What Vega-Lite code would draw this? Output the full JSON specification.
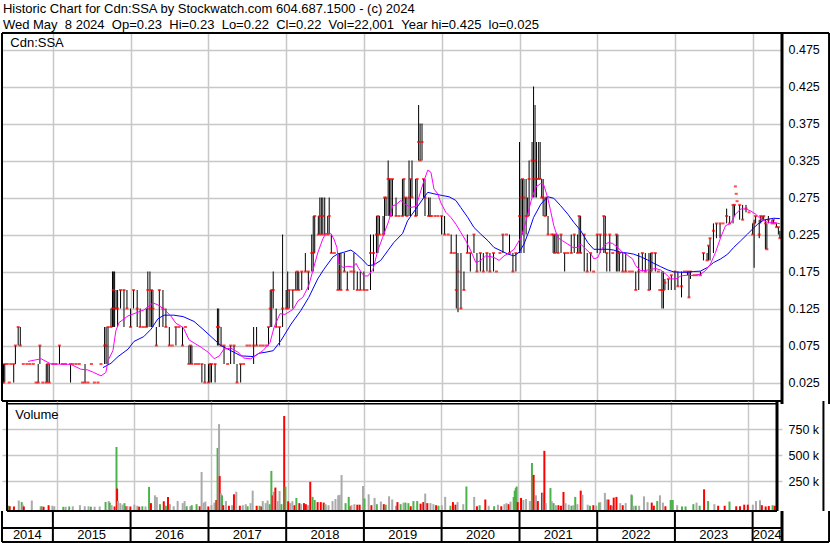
{
  "$schema": "https://vega.github.io/schema/vega-lite/v6.json",
  "background": "white",
  "padding": {"left": 0, "top": 2, "right": 1, "bottom": 1},
  "title": {
    "text": [
      "Historic Chart for Cdn:SSA by Stockwatch.com 604.687.1500 - (c) 2024",
      "Wed May \u00a08 2024 \u00a0Op=0.23 \u00a0Hi=0.23 \u00a0Lo=0.22 \u00a0Cl=0.22 \u00a0Vol=22,001 \u00a0Year hi=0.425 \u00a0lo=0.025"
    ],
    "anchor": "start",
    "frame": "bounds",
    "font": "Liberation Sans",
    "fontSize": 13,
    "fontWeight": "normal",
    "color": "#000000",
    "lineHeight": 16,
    "baseline": "bottom",
    "offset": -13,
    "dx": 2
  },
  "datasets": {
    "bars": [
      {"date":"2014-05-09","high":0.05,"low":0.025,"close":0.025},
      {"date":"2014-05-14","high":0.05,"low":0.025,"close":0.025},
      {"date":"2014-05-20","high":0.05,"low":0.025,"close":0.05},
      {"date":"2014-06-01","close":0.05},
      {"date":"2014-06-10","close":0.025},
      {"date":"2014-06-17","close":0.05},
      {"date":"2014-07-01","high":0.05,"low":0.025,"close":0.05},
      {"date":"2014-07-09","high":0.075,"low":0.05,"close":0.075},
      {"date":"2014-07-22","high":0.10,"low":0.075,"close":0.10},
      {"date":"2014-08-01","high":0.10,"low":0.075,"close":0.075},
      {"date":"2014-08-15","close":0.05},
      {"date":"2014-09-01","close":0.05},
      {"date":"2014-09-15","close":0.05},
      {"date":"2014-10-01","close":0.05},
      {"date":"2014-10-14","close":0.025},
      {"date":"2014-10-24","high":0.05,"low":0.025,"close":0.025},
      {"date":"2014-11-01","high":0.075,"low":0.05,"close":0.075},
      {"date":"2014-11-15","close":0.025},
      {"date":"2014-12-01","high":0.05,"low":0.025,"close":0.025},
      {"date":"2014-12-08","high":0.05,"low":0.025,"close":0.05},
      {"date":"2014-12-15","high":0.05,"low":0.025,"close":0.025},
      {"date":"2015-01-01","close":0.05},
      {"date":"2015-01-15","close":0.05},
      {"date":"2015-02-01","high":0.075,"low":0.05,"close":0.075},
      {"date":"2015-02-15","close":0.05},
      {"date":"2015-03-01","close":0.05},
      {"date":"2015-03-25","high":0.05,"low":0.025,"close":0.05},
      {"date":"2015-04-05","close":0.05},
      {"date":"2015-04-20","close":0.05},
      {"date":"2015-05-05","close":0.05},
      {"date":"2015-05-20","close":0.025},
      {"date":"2015-06-01","high":0.05,"low":0.025,"close":0.025},
      {"date":"2015-06-15","close":0.025},
      {"date":"2015-07-01","close":0.05},
      {"date":"2015-07-15","close":0.025},
      {"date":"2015-08-01","close":0.025},
      {"date":"2015-08-15","close":0.05},
      {"date":"2015-09-01","high":0.10,"low":0.05,"close":0.075},
      {"date":"2015-09-08","high":0.10,"low":0.05,"close":0.075},
      {"date":"2015-09-17","high":0.10,"low":0.05,"close":0.10},
      {"date":"2015-10-01","high":0.125,"low":0.10,"close":0.10},
      {"date":"2015-10-08","high":0.175,"low":0.10,"close":0.125},
      {"date":"2015-10-12","high":0.175,"low":0.10,"close":0.15},
      {"date":"2015-10-18","high":0.175,"low":0.10,"close":0.125},
      {"date":"2015-10-25","high":0.15,"low":0.125,"close":0.125},
      {"date":"2015-11-01","high":0.15,"low":0.10,"close":0.125},
      {"date":"2015-11-15","high":0.15,"low":0.125,"close":0.15},
      {"date":"2015-12-01","high":0.15,"low":0.10,"close":0.15},
      {"date":"2015-12-15","high":0.15,"low":0.125,"close":0.125},
      {"date":"2016-01-01","high":0.125,"low":0.10,"close":0.10},
      {"date":"2016-01-15","high":0.15,"low":0.125,"close":0.15},
      {"date":"2016-02-01","high":0.15,"low":0.10,"close":0.125},
      {"date":"2016-02-15","high":0.125,"low":0.10,"close":0.10},
      {"date":"2016-03-01","close":0.10},
      {"date":"2016-03-15","high":0.125,"low":0.10,"close":0.10},
      {"date":"2016-03-22","high":0.175,"low":0.10,"close":0.15},
      {"date":"2016-04-01","high":0.175,"low":0.10,"close":0.125},
      {"date":"2016-04-08","high":0.15,"low":0.10,"close":0.15},
      {"date":"2016-04-15","high":0.15,"low":0.10,"close":0.125},
      {"date":"2016-05-01","high":0.10,"low":0.075,"close":0.075},
      {"date":"2016-05-15","high":0.15,"low":0.10,"close":0.15},
      {"date":"2016-06-01","high":0.15,"low":0.10,"close":0.125},
      {"date":"2016-06-15","high":0.125,"low":0.10,"close":0.10},
      {"date":"2016-07-01","high":0.10,"low":0.075,"close":0.075},
      {"date":"2016-07-15","close":0.075},
      {"date":"2016-08-01","high":0.10,"low":0.075,"close":0.10},
      {"date":"2016-08-15","close":0.10},
      {"date":"2016-09-01","high":0.10,"low":0.075,"close":0.075},
      {"date":"2016-09-15","close":0.10},
      {"date":"2016-10-01","high":0.075,"low":0.05,"close":0.05},
      {"date":"2016-10-08","high":0.075,"low":0.05,"close":0.075},
      {"date":"2016-10-15","high":0.075,"low":0.05,"close":0.05},
      {"date":"2016-11-01","close":0.05},
      {"date":"2016-11-15","close":0.05},
      {"date":"2016-12-01","high":0.05,"low":0.025,"close":0.05},
      {"date":"2016-12-15","high":0.05,"low":0.025,"close":0.025},
      {"date":"2017-01-01","high":0.05,"low":0.025,"close":0.025},
      {"date":"2017-01-08","high":0.05,"low":0.025,"close":0.05},
      {"date":"2017-01-15","high":0.05,"low":0.025,"close":0.05},
      {"date":"2017-02-01","high":0.05,"low":0.025,"close":0.05},
      {"date":"2017-02-12","high":0.125,"low":0.075,"close":0.10},
      {"date":"2017-02-18","high":0.125,"low":0.075,"close":0.10},
      {"date":"2017-03-01","high":0.10,"low":0.075,"close":0.075},
      {"date":"2017-03-15","high":0.075,"low":0.05,"close":0.075},
      {"date":"2017-04-01","close":0.05},
      {"date":"2017-04-15","high":0.075,"low":0.05,"close":0.075},
      {"date":"2017-05-01","high":0.075,"low":0.05,"close":0.075},
      {"date":"2017-05-15","high":0.05,"low":0.025,"close":0.025},
      {"date":"2017-06-01","high":0.05,"low":0.025,"close":0.05},
      {"date":"2017-06-15","close":0.05},
      {"date":"2017-07-01","close":0.075},
      {"date":"2017-07-15","close":0.075},
      {"date":"2017-08-01","high":0.10,"low":0.05,"close":0.075},
      {"date":"2017-08-15","high":0.10,"low":0.075,"close":0.075},
      {"date":"2017-09-01","close":0.075},
      {"date":"2017-09-15","close":0.075},
      {"date":"2017-10-01","close":0.075},
      {"date":"2017-10-10","high":0.10,"low":0.075,"close":0.10},
      {"date":"2017-10-18","high":0.15,"low":0.10,"close":0.125},
      {"date":"2017-10-25","high":0.15,"low":0.10,"close":0.15},
      {"date":"2017-11-01","high":0.175,"low":0.125,"close":0.15},
      {"date":"2017-11-15","high":0.125,"low":0.10,"close":0.10},
      {"date":"2017-12-01","high":0.10,"low":0.075,"close":0.10},
      {"date":"2017-12-15","high":0.225,"low":0.10,"close":0.125},
      {"date":"2018-01-01","high":0.15,"low":0.125,"close":0.125},
      {"date":"2018-01-08","high":0.175,"low":0.125,"close":0.125},
      {"date":"2018-01-15","high":0.15,"low":0.125,"close":0.15},
      {"date":"2018-02-01","high":0.15,"low":0.125,"close":0.15},
      {"date":"2018-02-15","high":0.175,"low":0.15,"close":0.15},
      {"date":"2018-02-22","high":0.175,"low":0.15,"close":0.175},
      {"date":"2018-03-01","high":0.175,"low":0.15,"close":0.15},
      {"date":"2018-03-15","high":0.175,"low":0.15,"close":0.175},
      {"date":"2018-04-01","high":0.20,"low":0.175,"close":0.175},
      {"date":"2018-04-15","high":0.175,"low":0.15,"close":0.175},
      {"date":"2018-05-01","high":0.225,"low":0.175,"close":0.20},
      {"date":"2018-05-08","high":0.25,"low":0.175,"close":0.20},
      {"date":"2018-05-15","high":0.25,"low":0.20,"close":0.25},
      {"date":"2018-06-01","high":0.25,"low":0.225,"close":0.225},
      {"date":"2018-06-08","high":0.275,"low":0.225,"close":0.25},
      {"date":"2018-06-15","high":0.275,"low":0.225,"close":0.225},
      {"date":"2018-06-22","high":0.275,"low":0.225,"close":0.25},
      {"date":"2018-07-01","high":0.275,"low":0.225,"close":0.225},
      {"date":"2018-07-15","high":0.25,"low":0.225,"close":0.225},
      {"date":"2018-07-22","high":0.275,"low":0.225,"close":0.25},
      {"date":"2018-08-01","high":0.225,"low":0.20,"close":0.20},
      {"date":"2018-08-15","close":0.20},
      {"date":"2018-09-01","high":0.20,"low":0.15,"close":0.15},
      {"date":"2018-09-08","high":0.20,"low":0.15,"close":0.175},
      {"date":"2018-09-15","high":0.20,"low":0.15,"close":0.15},
      {"date":"2018-10-01","high":0.20,"low":0.175,"close":0.175},
      {"date":"2018-10-15","high":0.175,"low":0.15,"close":0.15},
      {"date":"2018-11-01","close":0.175},
      {"date":"2018-11-15","high":0.20,"low":0.15,"close":0.175},
      {"date":"2018-12-01","high":0.175,"low":0.15,"close":0.15},
      {"date":"2018-12-15","high":0.175,"low":0.15,"close":0.15},
      {"date":"2019-01-01","high":0.175,"low":0.15,"close":0.15},
      {"date":"2019-01-15","close":0.15},
      {"date":"2019-02-01","high":0.225,"low":0.15,"close":0.20},
      {"date":"2019-02-15","high":0.225,"low":0.175,"close":0.20},
      {"date":"2019-03-01","high":0.25,"low":0.20,"close":0.225},
      {"date":"2019-03-08","high":0.25,"low":0.20,"close":0.25},
      {"date":"2019-03-15","high":0.25,"low":0.225,"close":0.225},
      {"date":"2019-04-01","high":0.25,"low":0.225,"close":0.225},
      {"date":"2019-04-08","high":0.275,"low":0.225,"close":0.275},
      {"date":"2019-04-15","high":0.275,"low":0.25,"close":0.275},
      {"date":"2019-04-25","high":0.325,"low":0.25,"close":0.30},
      {"date":"2019-05-01","high":0.30,"low":0.25,"close":0.30},
      {"date":"2019-05-08","high":0.30,"low":0.25,"close":0.25},
      {"date":"2019-05-15","high":0.30,"low":0.25,"close":0.30},
      {"date":"2019-06-01","high":0.275,"low":0.25,"close":0.25},
      {"date":"2019-06-15","close":0.25},
      {"date":"2019-07-01","high":0.30,"low":0.25,"close":0.25},
      {"date":"2019-07-08","high":0.30,"low":0.25,"close":0.30},
      {"date":"2019-07-15","high":0.275,"low":0.25,"close":0.275},
      {"date":"2019-07-22","high":0.275,"low":0.25,"close":0.25},
      {"date":"2019-08-01","high":0.325,"low":0.25,"close":0.275},
      {"date":"2019-08-08","high":0.30,"low":0.25,"close":0.30},
      {"date":"2019-08-15","high":0.325,"low":0.275,"close":0.275},
      {"date":"2019-09-01","high":0.30,"low":0.25,"close":0.25},
      {"date":"2019-09-08","high":0.30,"low":0.25,"close":0.30},
      {"date":"2019-09-15","high":0.40,"low":0.325,"close":0.35},
      {"date":"2019-09-22","high":0.375,"low":0.325,"close":0.325},
      {"date":"2019-10-01","high":0.375,"low":0.325,"close":0.35},
      {"date":"2019-10-08","high":0.30,"low":0.275,"close":0.30},
      {"date":"2019-10-15","high":0.30,"low":0.25,"close":0.275},
      {"date":"2019-11-01","high":0.275,"low":0.25,"close":0.25},
      {"date":"2019-11-08","high":0.275,"low":0.25,"close":0.25},
      {"date":"2019-11-15","close":0.25},
      {"date":"2019-12-01","close":0.25},
      {"date":"2019-12-15","close":0.25},
      {"date":"2020-01-01","high":0.25,"low":0.225,"close":0.25},
      {"date":"2020-01-15","high":0.25,"low":0.225,"close":0.225},
      {"date":"2020-02-01","close":0.225},
      {"date":"2020-02-15","high":0.225,"low":0.20,"close":0.20},
      {"date":"2020-03-01","close":0.20},
      {"date":"2020-03-10","high":0.225,"low":0.125,"close":0.15},
      {"date":"2020-03-18","high":0.20,"low":0.12,"close":0.175},
      {"date":"2020-04-01","high":0.20,"low":0.125,"close":0.125},
      {"date":"2020-04-15","high":0.175,"low":0.15,"close":0.15},
      {"date":"2020-05-01","high":0.225,"low":0.20,"close":0.20},
      {"date":"2020-05-15","high":0.20,"low":0.175,"close":0.20},
      {"date":"2020-06-01","high":0.225,"low":0.20,"close":0.225},
      {"date":"2020-06-15","high":0.20,"low":0.175,"close":0.175},
      {"date":"2020-07-01","high":0.20,"low":0.175,"close":0.20},
      {"date":"2020-07-15","high":0.20,"low":0.175,"close":0.175},
      {"date":"2020-08-01","high":0.20,"low":0.175,"close":0.20},
      {"date":"2020-08-15","high":0.20,"low":0.175,"close":0.175},
      {"date":"2020-09-01","high":0.20,"low":0.175,"close":0.20},
      {"date":"2020-09-15","close":0.175},
      {"date":"2020-10-01","close":0.20},
      {"date":"2020-10-15","high":0.225,"low":0.20,"close":0.225},
      {"date":"2020-11-01","close":0.225},
      {"date":"2020-11-15","high":0.225,"low":0.20,"close":0.20},
      {"date":"2020-12-01","high":0.20,"low":0.175,"close":0.175},
      {"date":"2020-12-15","high":0.20,"low":0.175,"close":0.20},
      {"date":"2021-01-01","high":0.35,"low":0.20,"close":0.25},
      {"date":"2021-01-08","high":0.30,"low":0.20,"close":0.275},
      {"date":"2021-01-15","high":0.30,"low":0.225,"close":0.30},
      {"date":"2021-01-22","high":0.30,"low":0.20,"close":0.275},
      {"date":"2021-02-01","high":0.30,"low":0.225,"close":0.25},
      {"date":"2021-02-08","high":0.275,"low":0.25,"close":0.25},
      {"date":"2021-02-15","high":0.325,"low":0.25,"close":0.30},
      {"date":"2021-03-01","high":0.35,"low":0.275,"close":0.325},
      {"date":"2021-03-08","high":0.425,"low":0.275,"close":0.30},
      {"date":"2021-03-15","high":0.40,"low":0.275,"close":0.325},
      {"date":"2021-03-22","high":0.35,"low":0.275,"close":0.30},
      {"date":"2021-04-01","high":0.35,"low":0.30,"close":0.30},
      {"date":"2021-04-08","high":0.35,"low":0.30,"close":0.30},
      {"date":"2021-04-15","high":0.30,"low":0.275,"close":0.275},
      {"date":"2021-04-22","high":0.30,"low":0.25,"close":0.275},
      {"date":"2021-05-01","high":0.275,"low":0.25,"close":0.25},
      {"date":"2021-05-08","high":0.275,"low":0.25,"close":0.275},
      {"date":"2021-05-15","high":0.25,"low":0.225,"close":0.225},
      {"date":"2021-06-01","close":0.225},
      {"date":"2021-06-08","high":0.225,"low":0.20,"close":0.225},
      {"date":"2021-06-15","high":0.225,"low":0.20,"close":0.20},
      {"date":"2021-06-22","high":0.225,"low":0.20,"close":0.225},
      {"date":"2021-07-01","high":0.225,"low":0.20,"close":0.20},
      {"date":"2021-07-15","high":0.225,"low":0.20,"close":0.225},
      {"date":"2021-08-01","high":0.20,"low":0.175,"close":0.20},
      {"date":"2021-08-15","close":0.20},
      {"date":"2021-09-01","high":0.225,"low":0.20,"close":0.20},
      {"date":"2021-09-15","high":0.225,"low":0.20,"close":0.225},
      {"date":"2021-10-01","high":0.225,"low":0.20,"close":0.20},
      {"date":"2021-10-08","high":0.25,"low":0.20,"close":0.25},
      {"date":"2021-10-15","high":0.25,"low":0.20,"close":0.20},
      {"date":"2021-11-01","high":0.225,"low":0.175,"close":0.225},
      {"date":"2021-11-15","high":0.20,"low":0.175,"close":0.175},
      {"date":"2021-12-01","high":0.20,"low":0.175,"close":0.20},
      {"date":"2021-12-15","close":0.175},
      {"date":"2022-01-01","high":0.225,"low":0.20,"close":0.225},
      {"date":"2022-01-15","high":0.225,"low":0.20,"close":0.225},
      {"date":"2022-02-01","high":0.25,"low":0.20,"close":0.25},
      {"date":"2022-02-08","high":0.25,"low":0.20,"close":0.225},
      {"date":"2022-02-15","high":0.20,"low":0.175,"close":0.20},
      {"date":"2022-03-01","high":0.225,"low":0.175,"close":0.225},
      {"date":"2022-03-15","close":0.20},
      {"date":"2022-04-01","high":0.225,"low":0.175,"close":0.225},
      {"date":"2022-04-08","high":0.225,"low":0.175,"close":0.20},
      {"date":"2022-04-15","high":0.20,"low":0.175,"close":0.20},
      {"date":"2022-05-01","high":0.20,"low":0.175,"close":0.175},
      {"date":"2022-05-15","high":0.20,"low":0.175,"close":0.175},
      {"date":"2022-06-01","close":0.175},
      {"date":"2022-06-15","close":0.175},
      {"date":"2022-07-01","high":0.175,"low":0.15,"close":0.15},
      {"date":"2022-07-15","high":0.20,"low":0.15,"close":0.175},
      {"date":"2022-08-01","high":0.20,"low":0.175,"close":0.20},
      {"date":"2022-08-15","high":0.20,"low":0.175,"close":0.175},
      {"date":"2022-09-01","high":0.20,"low":0.15,"close":0.15},
      {"date":"2022-09-08","high":0.20,"low":0.15,"close":0.175},
      {"date":"2022-09-15","high":0.20,"low":0.175,"close":0.20},
      {"date":"2022-10-01","high":0.20,"low":0.175,"close":0.20},
      {"date":"2022-10-15","close":0.175},
      {"date":"2022-10-22","close":0.15},
      {"date":"2022-11-01","high":0.175,"low":0.125,"close":0.15},
      {"date":"2022-11-08","high":0.175,"low":0.125,"close":0.15},
      {"date":"2022-11-15","high":0.165,"low":0.15,"close":0.16},
      {"date":"2022-12-01","high":0.165,"low":0.15,"close":0.165},
      {"date":"2022-12-15","high":0.17,"low":0.15,"close":0.17},
      {"date":"2023-01-01","high":0.175,"low":0.15,"close":0.175},
      {"date":"2023-01-15","high":0.175,"low":0.155,"close":0.155},
      {"date":"2023-02-01","high":0.175,"low":0.14,"close":0.155},
      {"date":"2023-02-15","close":0.175},
      {"date":"2023-03-01","high":0.175,"low":0.17,"close":0.175},
      {"date":"2023-03-08","high":0.175,"low":0.14,"close":0.14},
      {"date":"2023-03-15","high":0.175,"low":0.165,"close":0.175},
      {"date":"2023-04-01","close":0.17},
      {"date":"2023-04-15","close":0.17},
      {"date":"2023-05-01","high":0.175,"low":0.17,"close":0.17},
      {"date":"2023-05-15","high":0.20,"low":0.19,"close":0.20},
      {"date":"2023-06-01","high":0.20,"low":0.19,"close":0.19},
      {"date":"2023-06-08","high":0.21,"low":0.19,"close":0.21},
      {"date":"2023-06-15","high":0.22,"low":0.19,"close":0.22},
      {"date":"2023-07-01","high":0.24,"low":0.20,"close":0.23},
      {"date":"2023-07-15","high":0.24,"low":0.22,"close":0.24},
      {"date":"2023-08-01","high":0.24,"low":0.22,"close":0.24},
      {"date":"2023-08-15","close":0.24},
      {"date":"2023-09-01","high":0.26,"low":0.24,"close":0.25},
      {"date":"2023-09-15","high":0.25,"low":0.24,"close":0.24},
      {"date":"2023-10-01","high":0.265,"low":0.24,"close":0.265},
      {"date":"2023-10-08","high":0.265,"low":0.25,"close":0.265},
      {"date":"2023-10-12","close":0.29},
      {"date":"2023-10-16","close":0.28},
      {"date":"2023-10-20","close":0.27},
      {"date":"2023-11-01","high":0.265,"low":0.245,"close":0.265},
      {"date":"2023-11-15","high":0.265,"low":0.245,"close":0.245},
      {"date":"2023-12-01","high":0.265,"low":0.255,"close":0.26},
      {"date":"2023-12-15","close":0.255},
      {"date":"2024-01-01","high":0.24,"low":0.225,"close":0.225},
      {"date":"2024-01-08","high":0.245,"low":0.18,"close":0.24},
      {"date":"2024-01-15","high":0.25,"low":0.24,"close":0.25},
      {"date":"2024-02-01","high":0.245,"low":0.22,"close":0.225},
      {"date":"2024-02-08","high":0.25,"low":0.24,"close":0.25},
      {"date":"2024-02-15","high":0.25,"low":0.245,"close":0.245},
      {"date":"2024-02-22","high":0.25,"low":0.245,"close":0.25},
      {"date":"2024-03-01","high":0.245,"low":0.205,"close":0.24},
      {"date":"2024-03-08","high":0.24,"low":0.205,"close":0.205},
      {"date":"2024-03-15","high":0.25,"low":0.24,"close":0.245},
      {"date":"2024-04-01","high":0.245,"low":0.24,"close":0.24},
      {"date":"2024-04-08","high":0.245,"low":0.24,"close":0.245},
      {"date":"2024-04-15","close":0.24},
      {"date":"2024-04-22","high":0.24,"low":0.235,"close":0.235},
      {"date":"2024-05-01","high":0.235,"low":0.225,"close":0.235},
      {"date":"2024-05-08","high":0.23,"low":0.22,"close":0.22}
    ],
    "ma_short": [
      {"date":"2014-09-06","value":0.0535},{"date":"2014-11-07","value":0.057},{"date":"2014-12-23","value":0.05},
      {"date":"2015-03-26","value":0.0495},{"date":"2015-05-12","value":0.043},{"date":"2015-06-14","value":0.042},
      {"date":"2015-07-12","value":0.0385},{"date":"2015-08-15","value":0.034},{"date":"2015-09-07","value":0.0385},
      {"date":"2015-09-17","value":0.0545},{"date":"2015-10-10","value":0.068},{"date":"2015-10-24","value":0.095},
      {"date":"2015-11-08","value":0.106},{"date":"2015-12-20","value":0.115},{"date":"2016-03-03","value":0.123},
      {"date":"2016-04-15","value":0.1325},{"date":"2016-05-08","value":0.13},{"date":"2016-06-06","value":0.124},
      {"date":"2016-07-08","value":0.115},{"date":"2016-08-01","value":0.105},{"date":"2016-09-04","value":0.0995},
      {"date":"2016-10-02","value":0.0825},{"date":"2016-11-28","value":0.0725},{"date":"2016-12-30","value":0.066},
      {"date":"2017-01-28","value":0.057},{"date":"2017-02-21","value":0.061},{"date":"2017-03-14","value":0.070},
      {"date":"2017-04-16","value":0.0715},{"date":"2017-05-19","value":0.066},{"date":"2017-06-16","value":0.058},
      {"date":"2017-07-19","value":0.057},{"date":"2017-08-21","value":0.0635},{"date":"2017-09-14","value":0.068},
      {"date":"2017-10-17","value":0.079},{"date":"2017-11-05","value":0.0995},{"date":"2017-12-03","value":0.118},
      {"date":"2017-12-26","value":0.117},{"date":"2018-02-03","value":0.124},{"date":"2018-02-26","value":0.1355},
      {"date":"2018-03-20","value":0.14},{"date":"2018-04-17","value":0.156},{"date":"2018-05-06","value":0.176},
      {"date":"2018-05-29","value":0.20},{"date":"2018-06-22","value":0.219},{"date":"2018-07-06","value":0.2265},
      {"date":"2018-07-29","value":0.2265},{"date":"2018-08-13","value":0.219},{"date":"2018-08-27","value":0.2075},
      {"date":"2018-09-06","value":0.185},{"date":"2018-09-25","value":0.1805},{"date":"2018-10-18","value":0.182},
      {"date":"2018-11-11","value":0.181},{"date":"2018-11-25","value":0.186},{"date":"2018-12-08","value":0.179},
      {"date":"2019-01-01","value":0.169},{"date":"2019-01-20","value":0.169},{"date":"2019-02-13","value":0.178},
      {"date":"2019-03-07","value":0.203},{"date":"2019-03-30","value":0.221},{"date":"2019-04-28","value":0.2435},
      {"date":"2019-05-16","value":0.264},{"date":"2019-05-30","value":0.265},{"date":"2019-06-23","value":0.271},
      {"date":"2019-07-16","value":0.2655},{"date":"2019-08-09","value":0.2615},{"date":"2019-09-02","value":0.263},
      {"date":"2019-09-16","value":0.275},{"date":"2019-10-05","value":0.293},{"date":"2019-10-28","value":0.312},
      {"date":"2019-11-12","value":0.309},{"date":"2019-11-26","value":0.2865},{"date":"2019-12-14","value":0.28},
      {"date":"2019-12-28","value":0.268},{"date":"2020-01-21","value":0.255},{"date":"2020-02-14","value":0.248},
      {"date":"2020-03-08","value":0.239},{"date":"2020-03-31","value":0.228},{"date":"2020-04-24","value":0.2165},
      {"date":"2020-05-17","value":0.203},{"date":"2020-06-10","value":0.187},{"date":"2020-07-03","value":0.19},
      {"date":"2020-07-26","value":0.196},{"date":"2020-08-20","value":0.195},{"date":"2020-09-03","value":0.194},
      {"date":"2020-09-27","value":0.19},{"date":"2020-10-20","value":0.196},{"date":"2020-11-13","value":0.20},
      {"date":"2020-12-06","value":0.205},{"date":"2021-01-08","value":0.221},{"date":"2021-02-01","value":0.2435},
      {"date":"2021-02-25","value":0.271},{"date":"2021-03-18","value":0.289},{"date":"2021-04-11","value":0.294},
      {"date":"2021-04-25","value":0.292},{"date":"2021-05-13","value":0.275},{"date":"2021-05-27","value":0.257},
      {"date":"2021-06-11","value":0.237},{"date":"2021-06-29","value":0.221},{"date":"2021-07-22","value":0.2165},
      {"date":"2021-08-16","value":0.212},{"date":"2021-09-09","value":0.2075},{"date":"2021-10-02","value":0.2075},
      {"date":"2021-10-16","value":0.212},{"date":"2021-11-09","value":0.205},{"date":"2021-12-02","value":0.199},
      {"date":"2021-12-16","value":0.192},{"date":"2022-01-04","value":0.194},{"date":"2022-01-18","value":0.203},
      {"date":"2022-02-02","value":0.21},{"date":"2022-02-21","value":0.214},{"date":"2022-03-14","value":0.213},
      {"date":"2022-04-07","value":0.2075},{"date":"2022-04-30","value":0.201},{"date":"2022-05-23","value":0.197},
      {"date":"2022-06-16","value":0.192},{"date":"2022-06-30","value":0.183},{"date":"2022-07-24","value":0.176},
      {"date":"2022-08-17","value":0.1765},{"date":"2022-09-10","value":0.178},{"date":"2022-10-03","value":0.179},
      {"date":"2022-10-26","value":0.177},{"date":"2022-11-19","value":0.1715},{"date":"2022-12-12","value":0.165},
      {"date":"2023-01-05","value":0.165},{"date":"2023-01-29","value":0.169},{"date":"2023-03-01","value":0.17},
      {"date":"2023-03-29","value":0.1695},{"date":"2023-05-01","value":0.1715},{"date":"2023-05-24","value":0.176},
      {"date":"2023-06-17","value":0.185},{"date":"2023-07-11","value":0.201},{"date":"2023-08-04","value":0.221},
      {"date":"2023-08-27","value":0.237},{"date":"2023-09-20","value":0.24},{"date":"2023-10-13","value":0.2525},
      {"date":"2023-11-06","value":0.2595},{"date":"2023-11-30","value":0.2595},{"date":"2023-12-22","value":0.257},
      {"date":"2024-01-15","value":0.2525},{"date":"2024-02-08","value":0.246},{"date":"2024-03-11","value":0.2415},
      {"date":"2024-04-09","value":0.2415},{"date":"2024-05-08","value":0.2395}
    ],
    "ma_long": [
      {"date":"2015-08-24","value":0.045},{"date":"2015-10-01","value":0.051},{"date":"2015-11-03","value":0.060},
      {"date":"2015-12-20","value":0.070},{"date":"2016-01-17","value":0.0805},{"date":"2016-03-03","value":0.087},
      {"date":"2016-04-06","value":0.097},{"date":"2016-05-08","value":0.111},{"date":"2016-06-06","value":0.116},
      {"date":"2016-07-22","value":0.116},{"date":"2016-09-04","value":0.114},{"date":"2016-10-25","value":0.1075},
      {"date":"2016-12-06","value":0.097},{"date":"2017-01-13","value":0.087},{"date":"2017-02-28","value":0.075},
      {"date":"2017-04-16","value":0.068},{"date":"2017-06-02","value":0.061},{"date":"2017-08-02","value":0.060},
      {"date":"2017-08-26","value":0.0645},{"date":"2017-09-28","value":0.066},{"date":"2017-11-01","value":0.068},
      {"date":"2017-12-07","value":0.0815},{"date":"2018-01-24","value":0.104},{"date":"2018-03-10","value":0.122},
      {"date":"2018-04-17","value":0.14},{"date":"2018-05-29","value":0.165},{"date":"2018-06-27","value":0.178},
      {"date":"2018-08-08","value":0.1945},{"date":"2018-09-01","value":0.199},{"date":"2018-09-29","value":0.201},
      {"date":"2018-11-01","value":0.204},{"date":"2018-11-25","value":0.199},{"date":"2018-12-27","value":0.1905},
      {"date":"2019-01-20","value":0.183},{"date":"2019-02-18","value":0.184},{"date":"2019-03-21","value":0.19},
      {"date":"2019-04-23","value":0.203},{"date":"2019-05-21","value":0.214},{"date":"2019-07-02","value":0.2265},
      {"date":"2019-07-25","value":0.2435},{"date":"2019-09-02","value":0.2595},{"date":"2019-10-05","value":0.273},
      {"date":"2019-10-28","value":0.282},{"date":"2019-11-26","value":0.28},{"date":"2020-01-07","value":0.2775},
      {"date":"2020-02-05","value":0.276},{"date":"2020-03-08","value":0.271},{"date":"2020-03-31","value":0.2615},
      {"date":"2020-05-03","value":0.248},{"date":"2020-06-01","value":0.2345},{"date":"2020-07-03","value":0.2255},
      {"date":"2020-08-06","value":0.2165},{"date":"2020-09-03","value":0.2075},{"date":"2020-10-06","value":0.203},
      {"date":"2020-11-08","value":0.1985},{"date":"2020-12-06","value":0.196},{"date":"2020-12-30","value":0.201},
      {"date":"2021-01-22","value":0.212},{"date":"2021-02-15","value":0.23},{"date":"2021-03-08","value":0.248},
      {"date":"2021-04-11","value":0.266},{"date":"2021-05-13","value":0.276},{"date":"2021-06-11","value":0.274},
      {"date":"2021-07-13","value":0.264},{"date":"2021-08-16","value":0.2525},{"date":"2021-09-13","value":0.2415},
      {"date":"2021-10-16","value":0.23},{"date":"2021-11-18","value":0.214},{"date":"2021-12-16","value":0.205},
      {"date":"2022-01-18","value":0.205},{"date":"2022-02-21","value":0.205},{"date":"2022-03-19","value":0.204},
      {"date":"2022-04-21","value":0.201},{"date":"2022-05-23","value":0.20},{"date":"2022-06-21","value":0.1985},
      {"date":"2022-07-24","value":0.195},{"date":"2022-08-26","value":0.1905},{"date":"2022-09-24","value":0.186},
      {"date":"2022-10-26","value":0.1815},{"date":"2022-11-29","value":0.177},{"date":"2022-12-26","value":0.1745},
      {"date":"2023-01-29","value":0.174},{"date":"2023-03-01","value":0.174},{"date":"2023-03-29","value":0.175},
      {"date":"2023-05-01","value":0.1755},{"date":"2023-06-03","value":0.1805},{"date":"2023-07-01","value":0.187},
      {"date":"2023-08-04","value":0.192},{"date":"2023-09-06","value":0.1985},{"date":"2023-10-04","value":0.2075},
      {"date":"2023-11-06","value":0.2165},{"date":"2023-12-08","value":0.2255},{"date":"2024-01-01","value":0.2325},
      {"date":"2024-01-25","value":0.239},{"date":"2024-02-22","value":0.2445},{"date":"2024-04-09","value":0.247},
      {"date":"2024-05-08","value":0.2465}
    ],
    "volume": [
      {"date":"2014-05-15","volume":15000,"dir":"up"},{"date":"2014-05-20","volume":10000,"dir":"down"},
      {"date":"2014-06-09","volume":8000,"dir":"down"},{"date":"2014-07-02","volume":65000,"dir":"flat"},
      {"date":"2014-07-16","volume":50000,"dir":"up"},{"date":"2014-07-21","volume":25000,"dir":"flat"},
      {"date":"2014-07-26","volume":8000,"dir":"down"},{"date":"2014-09-02","volume":65000,"dir":"flat"},
      {"date":"2014-10-14","volume":8000,"dir":"flat"},{"date":"2014-10-18","volume":10000,"dir":"up"},
      {"date":"2014-10-28","volume":6000,"dir":"down"},{"date":"2014-11-21","volume":20000,"dir":"down"},
      {"date":"2014-12-09","volume":15000,"dir":"flat"},{"date":"2014-12-18","volume":10000,"dir":"flat"},
      {"date":"2015-01-30","volume":5000,"dir":"up"},{"date":"2015-02-10","volume":5000,"dir":"flat"},
      {"date":"2015-02-27","volume":8000,"dir":"up"},{"date":"2015-03-16","volume":10000,"dir":"flat"},
      {"date":"2015-04-19","volume":20000,"dir":"flat"},{"date":"2015-05-12","volume":10000,"dir":"flat"},
      {"date":"2015-05-30","volume":10000,"dir":"flat"},{"date":"2015-06-10","volume":6000,"dir":"up"},
      {"date":"2015-06-28","volume":6000,"dir":"flat"},{"date":"2015-07-22","volume":8000,"dir":"flat"},
      {"date":"2015-08-19","volume":52000,"dir":"up"},{"date":"2015-09-03","volume":60000,"dir":"flat"},
      {"date":"2015-09-08","volume":45000,"dir":"up"},{"date":"2015-09-17","volume":20000,"dir":"flat"},
      {"date":"2015-10-01","volume":8000,"dir":"down"},{"date":"2015-10-10","volume":580000,"dir":"up"},
      {"date":"2015-10-13","volume":180000,"dir":"down"},{"date":"2015-10-17","volume":60000,"dir":"flat"},
      {"date":"2015-10-28","volume":40000,"dir":"flat"},{"date":"2015-11-08","volume":25000,"dir":"flat"},
      {"date":"2015-11-17","volume":40000,"dir":"up"},{"date":"2015-11-26","volume":10000,"dir":"down"},
      {"date":"2015-12-01","volume":10000,"dir":"flat"},{"date":"2015-12-15","volume":8000,"dir":"down"},
      {"date":"2016-01-03","volume":25000,"dir":"flat"},{"date":"2016-01-17","volume":15000,"dir":"flat"},
      {"date":"2016-01-26","volume":6000,"dir":"down"},{"date":"2016-02-10","volume":10000,"dir":"up"},
      {"date":"2016-02-25","volume":8000,"dir":"flat"},{"date":"2016-03-13","volume":196000,"dir":"up"},
      {"date":"2016-03-22","volume":40000,"dir":"down"},{"date":"2016-04-10","volume":115000,"dir":"flat"},
      {"date":"2016-04-19","volume":98000,"dir":"flat"},{"date":"2016-05-04","volume":30000,"dir":"up"},
      {"date":"2016-05-22","volume":58000,"dir":"down"},{"date":"2016-06-01","volume":15000,"dir":"up"},
      {"date":"2016-06-11","volume":99000,"dir":"down"},{"date":"2016-06-20","volume":30000,"dir":"flat"},
      {"date":"2016-07-08","volume":10000,"dir":"flat"},{"date":"2016-07-27","volume":60000,"dir":"flat"},
      {"date":"2016-08-20","volume":40000,"dir":"flat"},{"date":"2016-08-29","volume":60000,"dir":"flat"},
      {"date":"2016-09-08","volume":10000,"dir":"up"},{"date":"2016-09-25","volume":10000,"dir":"flat"},
      {"date":"2016-10-02","volume":20000,"dir":"up"},{"date":"2016-10-25","volume":30000,"dir":"up"},
      {"date":"2016-11-09","volume":10000,"dir":"down"},{"date":"2016-11-18","volume":340000,"dir":"flat"},
      {"date":"2016-11-28","volume":45000,"dir":"flat"},{"date":"2016-12-06","volume":55000,"dir":"flat"},
      {"date":"2016-12-20","volume":8000,"dir":"down"},{"date":"2017-01-04","volume":20000,"dir":"flat"},
      {"date":"2017-01-18","volume":45000,"dir":"flat"},{"date":"2017-01-27","volume":70000,"dir":"down"},
      {"date":"2017-02-02","volume":570000,"dir":"up"},{"date":"2017-02-09","volume":800000,"dir":"flat"},
      {"date":"2017-02-12","volume":300000,"dir":"down"},{"date":"2017-02-18","volume":135000,"dir":"flat"},
      {"date":"2017-02-23","volume":115000,"dir":"up"},{"date":"2017-03-01","volume":20000,"dir":"down"},
      {"date":"2017-03-14","volume":60000,"dir":"flat"},{"date":"2017-03-28","volume":15000,"dir":"down"},
      {"date":"2017-04-12","volume":20000,"dir":"flat"},{"date":"2017-04-21","volume":125000,"dir":"down"},
      {"date":"2017-05-02","volume":150000,"dir":"flat"},{"date":"2017-05-19","volume":15000,"dir":"down"},
      {"date":"2017-06-02","volume":20000,"dir":"flat"},{"date":"2017-06-16","volume":30000,"dir":"flat"},
      {"date":"2017-06-25","volume":10000,"dir":"up"},{"date":"2017-07-09","volume":40000,"dir":"flat"},
      {"date":"2017-07-19","volume":160000,"dir":"flat"},{"date":"2017-08-07","volume":15000,"dir":"down"},
      {"date":"2017-08-21","volume":15000,"dir":"up"},{"date":"2017-08-30","volume":8000,"dir":"down"},
      {"date":"2017-09-05","volume":60000,"dir":"flat"},{"date":"2017-09-19","volume":40000,"dir":"flat"},
      {"date":"2017-09-28","volume":65000,"dir":"flat"},{"date":"2017-10-08","volume":30000,"dir":"up"},
      {"date":"2017-10-16","volume":350000,"dir":"up"},{"date":"2017-10-22","volume":115000,"dir":"down"},
      {"date":"2017-10-27","volume":150000,"dir":"flat"},{"date":"2017-11-04","volume":190000,"dir":"down"},
      {"date":"2017-11-15","volume":60000,"dir":"flat"},{"date":"2017-11-24","volume":157000,"dir":"flat"},
      {"date":"2017-12-03","volume":30000,"dir":"up"},{"date":"2017-12-16","volume":878000,"dir":"down"},
      {"date":"2017-12-22","volume":200000,"dir":"up"},{"date":"2018-01-04","volume":58000,"dir":"down"},
      {"date":"2018-01-14","volume":40000,"dir":"flat"},{"date":"2018-01-24","volume":58000,"dir":"flat"},
      {"date":"2018-02-03","volume":20000,"dir":"down"},{"date":"2018-02-12","volume":90000,"dir":"up"},
      {"date":"2018-02-26","volume":40000,"dir":"down"},{"date":"2018-03-06","volume":30000,"dir":"flat"},
      {"date":"2018-03-20","volume":40000,"dir":"down"},{"date":"2018-03-29","volume":30000,"dir":"down"},
      {"date":"2018-04-08","volume":20000,"dir":"flat"},{"date":"2018-04-19","volume":245000,"dir":"down"},
      {"date":"2018-04-30","volume":100000,"dir":"up"},{"date":"2018-05-10","volume":70000,"dir":"up"},
      {"date":"2018-05-24","volume":50000,"dir":"down"},{"date":"2018-06-08","volume":50000,"dir":"down"},
      {"date":"2018-06-22","volume":45000,"dir":"down"},{"date":"2018-06-30","volume":10000,"dir":"up"},
      {"date":"2018-07-01","volume":30000,"dir":"flat"},{"date":"2018-07-15","volume":20000,"dir":"flat"},
      {"date":"2018-08-03","volume":60000,"dir":"flat"},{"date":"2018-08-17","volume":80000,"dir":"flat"},
      {"date":"2018-08-30","volume":115000,"dir":"flat"},{"date":"2018-09-06","volume":120000,"dir":"flat"},
      {"date":"2018-09-15","volume":310000,"dir":"flat"},{"date":"2018-10-04","volume":40000,"dir":"up"},
      {"date":"2018-10-19","volume":100000,"dir":"up"},{"date":"2018-10-28","volume":10000,"dir":"down"},
      {"date":"2018-11-01","volume":20000,"dir":"flat"},{"date":"2018-11-15","volume":30000,"dir":"flat"},
      {"date":"2018-11-29","volume":25000,"dir":"down"},{"date":"2018-12-10","volume":25000,"dir":"down"},
      {"date":"2018-12-26","volume":205000,"dir":"flat"},{"date":"2019-01-02","volume":85000,"dir":"up"},
      {"date":"2019-01-22","volume":125000,"dir":"flat"},{"date":"2019-02-04","volume":20000,"dir":"down"},
      {"date":"2019-02-19","volume":90000,"dir":"flat"},{"date":"2019-03-02","volume":30000,"dir":"up"},
      {"date":"2019-03-21","volume":55000,"dir":"flat"},{"date":"2019-04-04","volume":30000,"dir":"down"},
      {"date":"2019-04-13","volume":25000,"dir":"up"},{"date":"2019-04-29","volume":106000,"dir":"flat"},
      {"date":"2019-05-14","volume":75000,"dir":"flat"},{"date":"2019-06-01","volume":15000,"dir":"flat"},
      {"date":"2019-06-08","volume":50000,"dir":"down"},{"date":"2019-06-23","volume":30000,"dir":"up"},
      {"date":"2019-07-07","volume":45000,"dir":"flat"},{"date":"2019-07-16","volume":45000,"dir":"up"},
      {"date":"2019-07-30","volume":40000,"dir":"up"},{"date":"2019-08-10","volume":10000,"dir":"down"},
      {"date":"2019-08-23","volume":60000,"dir":"up"},{"date":"2019-09-10","volume":60000,"dir":"up"},
      {"date":"2019-09-26","volume":35000,"dir":"down"},{"date":"2019-10-09","volume":50000,"dir":"down"},
      {"date":"2019-10-18","volume":132000,"dir":"flat"},{"date":"2019-10-28","volume":40000,"dir":"down"},
      {"date":"2019-11-12","volume":40000,"dir":"flat"},{"date":"2019-11-26","volume":30000,"dir":"flat"},
      {"date":"2019-12-09","volume":20000,"dir":"down"},{"date":"2019-12-20","volume":15000,"dir":"up"},
      {"date":"2020-01-05","volume":20000,"dir":"flat"},{"date":"2020-01-21","volume":100000,"dir":"flat"},
      {"date":"2020-02-15","volume":15000,"dir":"up"},{"date":"2020-02-27","volume":50000,"dir":"down"},
      {"date":"2020-03-10","volume":25000,"dir":"down"},{"date":"2020-03-20","volume":50000,"dir":"flat"},
      {"date":"2020-04-16","volume":30000,"dir":"flat"},{"date":"2020-05-01","volume":200000,"dir":"up"},
      {"date":"2020-06-07","volume":100000,"dir":"flat"},{"date":"2020-06-20","volume":10000,"dir":"down"},
      {"date":"2020-07-03","volume":20000,"dir":"up"},{"date":"2020-07-30","volume":75000,"dir":"down"},
      {"date":"2020-08-15","volume":15000,"dir":"flat"},{"date":"2020-09-10","volume":10000,"dir":"up"},
      {"date":"2020-09-28","volume":25000,"dir":"flat"},{"date":"2020-10-14","volume":10000,"dir":"down"},
      {"date":"2020-10-29","volume":30000,"dir":"flat"},{"date":"2020-11-08","volume":40000,"dir":"flat"},
      {"date":"2020-11-18","volume":30000,"dir":"down"},{"date":"2020-11-27","volume":55000,"dir":"flat"},
      {"date":"2020-12-12","volume":100000,"dir":"up"},{"date":"2020-12-17","volume":160000,"dir":"up"},
      {"date":"2020-12-22","volume":185000,"dir":"up"},{"date":"2020-12-26","volume":200000,"dir":"up"},
      {"date":"2020-12-31","volume":50000,"dir":"down"},{"date":"2021-01-16","volume":90000,"dir":"down"},
      {"date":"2021-01-27","volume":70000,"dir":"flat"},{"date":"2021-02-09","volume":80000,"dir":"flat"},
      {"date":"2021-02-27","volume":60000,"dir":"flat"},{"date":"2021-03-09","volume":426000,"dir":"up"},
      {"date":"2021-03-17","volume":312000,"dir":"down"},{"date":"2021-03-28","volume":115000,"dir":"flat"},
      {"date":"2021-04-06","volume":60000,"dir":"down"},{"date":"2021-04-26","volume":140000,"dir":"down"},
      {"date":"2021-05-01","volume":135000,"dir":"flat"},{"date":"2021-05-07","volume":543000,"dir":"down"},
      {"date":"2021-05-14","volume":40000,"dir":"flat"},{"date":"2021-06-05","volume":185000,"dir":"up"},
      {"date":"2021-06-11","volume":60000,"dir":"flat"},{"date":"2021-06-20","volume":40000,"dir":"up"},
      {"date":"2021-07-01","volume":20000,"dir":"flat"},{"date":"2021-07-13","volume":20000,"dir":"down"},
      {"date":"2021-07-25","volume":15000,"dir":"down"},{"date":"2021-08-06","volume":147000,"dir":"down"},
      {"date":"2021-08-16","volume":40000,"dir":"flat"},{"date":"2021-08-31","volume":25000,"dir":"flat"},
      {"date":"2021-09-13","volume":15000,"dir":"up"},{"date":"2021-09-22","volume":20000,"dir":"flat"},
      {"date":"2021-10-01","volume":100000,"dir":"up"},{"date":"2021-10-11","volume":30000,"dir":"flat"},
      {"date":"2021-10-27","volume":160000,"dir":"down"},{"date":"2021-11-04","volume":120000,"dir":"flat"},
      {"date":"2021-11-29","volume":25000,"dir":"flat"},{"date":"2021-12-10","volume":15000,"dir":"up"},
      {"date":"2021-12-26","volume":20000,"dir":"down"},{"date":"2022-01-09","volume":15000,"dir":"flat"},
      {"date":"2022-01-23","volume":45000,"dir":"up"},{"date":"2022-01-28","volume":50000,"dir":"flat"},
      {"date":"2022-02-19","volume":138000,"dir":"flat"},{"date":"2022-02-28","volume":75000,"dir":"flat"},
      {"date":"2022-03-08","volume":75000,"dir":"down"},{"date":"2022-03-19","volume":20000,"dir":"down"},
      {"date":"2022-03-28","volume":15000,"dir":"flat"},{"date":"2022-04-02","volume":93000,"dir":"down"},
      {"date":"2022-04-15","volume":100000,"dir":"down"},{"date":"2022-05-03","volume":40000,"dir":"flat"},
      {"date":"2022-05-15","volume":20000,"dir":"down"},{"date":"2022-05-29","volume":40000,"dir":"flat"},
      {"date":"2022-06-25","volume":125000,"dir":"flat"},{"date":"2022-06-27","volume":115000,"dir":"up"},
      {"date":"2022-07-05","volume":15000,"dir":"flat"},{"date":"2022-07-16","volume":15000,"dir":"up"},
      {"date":"2022-08-01","volume":15000,"dir":"flat"},{"date":"2022-08-24","volume":105000,"dir":"flat"},
      {"date":"2022-09-10","volume":50000,"dir":"flat"},{"date":"2022-09-30","volume":45000,"dir":"down"},
      {"date":"2022-10-10","volume":15000,"dir":"down"},{"date":"2022-10-26","volume":60000,"dir":"up"},
      {"date":"2022-11-08","volume":115000,"dir":"flat"},{"date":"2022-11-22","volume":45000,"dir":"flat"},
      {"date":"2022-12-04","volume":10000,"dir":"down"},{"date":"2022-12-29","volume":70000,"dir":"up"},
      {"date":"2023-01-03","volume":70000,"dir":"up"},{"date":"2023-01-08","volume":70000,"dir":"up"},
      {"date":"2023-01-29","volume":20000,"dir":"flat"},{"date":"2023-02-21","volume":8000,"dir":"up"},
      {"date":"2023-03-10","volume":8000,"dir":"up"},{"date":"2023-04-16","volume":30000,"dir":"up"},
      {"date":"2023-05-01","volume":45000,"dir":"flat"},{"date":"2023-05-16","volume":15000,"dir":"up"},
      {"date":"2023-06-06","volume":173000,"dir":"down"},{"date":"2023-06-25","volume":60000,"dir":"up"},
      {"date":"2023-07-25","volume":30000,"dir":"flat"},{"date":"2023-08-12","volume":15000,"dir":"down"},
      {"date":"2023-09-12","volume":15000,"dir":"down"},{"date":"2023-10-05","volume":55000,"dir":"up"},
      {"date":"2023-11-06","volume":10000,"dir":"down"},{"date":"2023-11-24","volume":10000,"dir":"down"},
      {"date":"2023-12-14","volume":25000,"dir":"down"},{"date":"2023-12-31","volume":25000,"dir":"down"},
      {"date":"2024-01-24","volume":25000,"dir":"flat"},{"date":"2024-02-08","volume":60000,"dir":"flat"},
      {"date":"2024-02-27","volume":67000,"dir":"flat"},{"date":"2024-03-07","volume":20000,"dir":"down"},
      {"date":"2024-03-25","volume":8000,"dir":"down"},{"date":"2024-04-09","volume":12000,"dir":"down"},
      {"date":"2024-04-27","volume":20000,"dir":"up"},{"date":"2024-05-07","volume":15000,"dir":"down"}
    ],
    "years": [
      {"label":"2014","mid":"2014-09-03"},
      {"label":"2015","start":"2015-01-01","mid":"2015-07-02"},
      {"label":"2016","start":"2016-01-01","mid":"2016-07-02"},
      {"label":"2017","start":"2017-01-01","mid":"2017-07-02"},
      {"label":"2018","start":"2018-01-01","mid":"2018-07-02"},
      {"label":"2019","start":"2019-01-01","mid":"2019-07-02"},
      {"label":"2020","start":"2020-01-01","mid":"2020-07-02"},
      {"label":"2021","start":"2021-01-01","mid":"2021-07-02"},
      {"label":"2022","start":"2022-01-01","mid":"2022-07-02"},
      {"label":"2023","start":"2023-01-01","mid":"2023-07-02"},
      {"label":"2024","start":"2024-01-01","mid":"2024-03-10"}
    ]
  },
  "vconcat": [
    {
      "width": 780,
      "height": 368,
      "layer": [
        {
          "data": {"name": "bars"},
          "transform": [{"filter": "datum.high > datum.low"}],
          "mark": {"type": "rule", "color": "#000000", "strokeWidth": 1},
          "encoding": {
            "x": {"field": "date", "type": "temporal",
              "scale": {"type": "utc", "nice": false, "domain": [{"year": 2014, "month": 5, "date": 7, "utc": true}, {"year": 2024, "month": 5, "date": 18, "utc": true}]},
              "axis": {"title": null, "labels": false, "ticks": false, "domain": false, "grid": true, "gridColor": "#c8c8c8", "gridWidth": 1.5, "tickCount": {"interval": "year", "step": 1}}},
            "y": {"field": "low", "type": "quantitative",
              "scale": {"domain": [0, 0.4973], "nice": false, "zero": false},
              "axis": {"orient": "right", "title": null, "ticks": false, "domain": false, "grid": true, "gridColor": "#c8c8c8", "gridWidth": 1.5,
                "values": [0.025, 0.05, 0.075, 0.1, 0.125, 0.15, 0.175, 0.2, 0.225, 0.25, 0.275, 0.3, 0.325, 0.35, 0.375, 0.4, 0.425, 0.45, 0.475],
                "labelExpr": "replace(format(datum.value, '.3f'), regexp('0$'), '')",
                "labelPadding": 6, "labelFont": "Liberation Sans", "labelFontSize": 12.5, "labelColor": "#000000", "labelOverlap": false}},
            "y2": {"field": "high"}
          }
        },
        {
          "data": {"name": "bars"},
          "mark": {"type": "tick", "orient": "horizontal", "color": "#ff0000", "size": 3, "thickness": 2},
          "encoding": {
            "x": {"field": "date", "type": "temporal", "scale": {"type": "utc", "nice": false, "domain": [{"year": 2014, "month": 5, "date": 7, "utc": true}, {"year": 2024, "month": 5, "date": 18, "utc": true}]}},
            "y": {"field": "close", "type": "quantitative", "scale": {"domain": [0, 0.4973], "nice": false, "zero": false}}
          }
        },
        {
          "data": {"name": "ma_long"},
          "mark": {"type": "line", "color": "#0000ff", "strokeWidth": 1},
          "encoding": {
            "x": {"field": "date", "type": "temporal", "scale": {"type": "utc", "nice": false, "domain": [{"year": 2014, "month": 5, "date": 7, "utc": true}, {"year": 2024, "month": 5, "date": 18, "utc": true}]}},
            "y": {"field": "value", "type": "quantitative", "scale": {"domain": [0, 0.4973], "nice": false, "zero": false}}
          }
        },
        {
          "data": {"name": "ma_short"},
          "mark": {"type": "line", "color": "#ff00ff", "strokeWidth": 1},
          "encoding": {
            "x": {"field": "date", "type": "temporal", "scale": {"type": "utc", "nice": false, "domain": [{"year": 2014, "month": 5, "date": 7, "utc": true}, {"year": 2024, "month": 5, "date": 18, "utc": true}]}},
            "y": {"field": "value", "type": "quantitative", "scale": {"domain": [0, 0.4973], "nice": false, "zero": false}}
          }
        },
        {
          "data": {"values": [{}]},
          "mark": {"type": "text", "text": "Cdn:SSA", "align": "left", "baseline": "alphabetic", "font": "Liberation Sans", "fontSize": 13, "color": "#000000"},
          "encoding": {
            "x": {"datum": {"year": 2014, "month": 6, "date": 15, "utc": true}, "type": "temporal"},
            "y": {"datum": 0.4788, "type": "quantitative"}
          }
        },
        {
          "data": {"values": [{}]},
          "mark": {"type": "rule", "color": "#000000", "strokeWidth": 2, "clip": false},
          "encoding": {"x": {"datum": {"year": 2014, "month": 5, "date": 7, "utc": true}, "type": "temporal"}}
        },
        {
          "data": {"values": [{}]},
          "mark": {"type": "rule", "color": "#000000", "strokeWidth": 3, "clip": false},
          "encoding": {
            "x": {"datum": {"year": 2024, "month": 5, "date": 18, "utc": true}, "type": "temporal"},
            "y": {"datum": 0.4973, "type": "quantitative"},
            "y2": {"datum": -0.0041}
          }
        },
        {
          "data": {"values": [{}]},
          "mark": {"type": "rule", "color": "#000000", "strokeWidth": 2, "clip": false},
          "encoding": {
            "x": {"datum": {"year": 2024, "month": 12, "date": 25, "utc": true}, "type": "temporal"},
            "y": {"datum": 0.4973, "type": "quantitative"},
            "y2": {"datum": -0.0041}
          }
        },
        {
          "data": {"values": [{}]},
          "mark": {"type": "rule", "color": "#000000", "strokeWidth": 2, "clip": false},
          "encoding": {
            "x": {"datum": {"year": 2014, "month": 5, "date": 7, "utc": true}, "type": "temporal"},
            "x2": {"datum": {"year": 2024, "month": 12, "date": 25, "utc": true}},
            "y": {"datum": 0.4973, "type": "quantitative"}
          }
        },
        {
          "data": {"values": [{}]},
          "mark": {"type": "rule", "color": "#000000", "strokeWidth": 2, "clip": false},
          "encoding": {
            "x": {"datum": {"year": 2014, "month": 5, "date": 7, "utc": true}, "type": "temporal"},
            "x2": {"datum": {"year": 2024, "month": 5, "date": 18, "utc": true}},
            "y": {"datum": 0, "type": "quantitative"}
          }
        }
      ]
    },
    {
      "width": 780,
      "height": 110,
      "layer": [
        {
          "data": {"name": "volume"},
          "mark": {"type": "bar", "size": 2},
          "encoding": {
            "x": {"field": "date", "type": "temporal",
              "scale": {"type": "utc", "nice": false, "domain": [{"year": 2014, "month": 5, "date": 7, "utc": true}, {"year": 2024, "month": 5, "date": 18, "utc": true}]},
              "axis": {"title": null, "labels": false, "ticks": false, "domain": false, "grid": true, "gridColor": "#c8c8c8", "gridWidth": 1.5, "tickCount": {"interval": "year", "step": 1}}},
            "y": {"field": "volume", "type": "quantitative",
              "scale": {"domain": [-35600, 1022100], "nice": false, "zero": false},
              "axis": {"orient": "right", "title": null, "ticks": false, "domain": false, "grid": true, "gridColor": "#c8c8c8", "gridWidth": 1.5,
                "values": [250000, 500000, 750000],
                "labelExpr": "format(datum.value / 1000, 'd') + ' k'",
                "labelPadding": 6, "labelFont": "Liberation Sans", "labelFontSize": 12.5, "labelColor": "#000000"}},
            "y2": {"datum": -35600},
            "color": {"field": "dir", "type": "nominal", "scale": {"domain": ["up", "down", "flat"], "range": ["#4cb34c", "#ff0000", "#aaaaaa"]}, "legend": null}
          }
        },
        {
          "data": {"values": [{}]},
          "mark": {"type": "text", "text": "Volume", "align": "left", "baseline": "alphabetic", "font": "Liberation Sans", "fontSize": 13, "color": "#000000"},
          "encoding": {
            "x": {"datum": {"year": 2014, "month": 6, "date": 15, "utc": true}, "type": "temporal"},
            "y": {"datum": 849000, "type": "quantitative"}
          }
        },
        {
          "data": {"values": [{}]},
          "mark": {"type": "rule", "color": "#000000", "strokeWidth": 2, "clip": false},
          "encoding": {"x": {"datum": {"year": 2014, "month": 5, "date": 7, "utc": true}, "type": "temporal"}}
        },
        {
          "data": {"values": [{}]},
          "mark": {"type": "rule", "color": "#000000", "strokeWidth": 3, "clip": false},
          "encoding": {"x": {"datum": {"year": 2024, "month": 5, "date": 18, "utc": true}, "type": "temporal"}}
        },
        {
          "data": {"values": [{}]},
          "mark": {"type": "rule", "color": "#000000", "strokeWidth": 2, "clip": false},
          "encoding": {"x": {"datum": {"year": 2024, "month": 12, "date": 25, "utc": true}, "type": "temporal"}}
        },
        {
          "data": {"values": [{}]},
          "mark": {"type": "rule", "color": "#000000", "strokeWidth": 1.5, "clip": false},
          "encoding": {
            "x": {"datum": {"year": 2014, "month": 5, "date": 7, "utc": true}, "type": "temporal"},
            "x2": {"datum": {"year": 2024, "month": 5, "date": 18, "utc": true}},
            "y": {"datum": 996000, "type": "quantitative"}
          }
        },
        {
          "data": {"values": [{}]},
          "mark": {"type": "rule", "color": "#000000", "strokeWidth": 2, "clip": false},
          "encoding": {
            "x": {"datum": {"year": 2014, "month": 5, "date": 7, "utc": true}, "type": "temporal"},
            "x2": {"datum": {"year": 2024, "month": 5, "date": 18, "utc": true}},
            "y": {"datum": -35600, "type": "quantitative"}
          }
        }
      ]
    },
    {
      "width": 780,
      "height": 17,
      "layer": [
        {
          "data": {"name": "years"},
          "transform": [{"filter": "datum.start != null"}],
          "mark": {"type": "rule", "color": "#000000", "strokeWidth": 2},
          "encoding": {
            "x": {"field": "start", "type": "temporal", "scale": {"type": "utc", "nice": false, "domain": [{"year": 2014, "month": 5, "date": 7, "utc": true}, {"year": 2024, "month": 5, "date": 18, "utc": true}]}, "axis": null}
          }
        },
        {
          "data": {"values": [{}]},
          "mark": {"type": "rule", "color": "#000000", "strokeWidth": 2, "clip": false},
          "encoding": {"x": {"datum": {"year": 2014, "month": 5, "date": 7, "utc": true}, "type": "temporal"}}
        },
        {
          "data": {"values": [{}]},
          "mark": {"type": "rule", "color": "#000000", "strokeWidth": 3, "clip": false},
          "encoding": {"x": {"datum": {"year": 2024, "month": 5, "date": 18, "utc": true}, "type": "temporal"}}
        },
        {
          "data": {"values": [{}]},
          "mark": {"type": "rule", "color": "#000000", "strokeWidth": 2, "clip": false},
          "encoding": {"x": {"datum": {"year": 2024, "month": 12, "date": 25, "utc": true}, "type": "temporal"}}
        },
        {
          "data": {"values": [{}]},
          "mark": {"type": "rule", "color": "#000000", "strokeWidth": 2, "clip": false},
          "encoding": {
            "x": {"datum": {"year": 2014, "month": 5, "date": 7, "utc": true}, "type": "temporal"},
            "x2": {"datum": {"year": 2024, "month": 5, "date": 18, "utc": true}},
            "y": {"datum": 0, "type": "quantitative", "scale": {"domain": [0, 1], "nice": false}, "axis": null}
          }
        }
      ]
    },
    {
      "width": 780,
      "height": 14,
      "layer": [
        {
          "data": {"name": "years"},
          "transform": [{"filter": "datum.start != null"}],
          "mark": {"type": "rule", "color": "#000000", "strokeWidth": 2},
          "encoding": {
            "x": {"field": "start", "type": "temporal", "scale": {"type": "utc", "nice": false, "domain": [{"year": 2014, "month": 5, "date": 7, "utc": true}, {"year": 2024, "month": 5, "date": 18, "utc": true}]}, "axis": null}
          }
        },
        {
          "data": {"name": "years"},
          "mark": {"type": "text", "font": "Liberation Sans", "fontSize": 13, "color": "#000000", "baseline": "middle"},
          "encoding": {
            "x": {"field": "mid", "type": "temporal"},
            "text": {"field": "label", "type": "nominal"}
          }
        },
        {
          "data": {"values": [{}]},
          "mark": {"type": "rule", "color": "#000000", "strokeWidth": 2, "clip": false},
          "encoding": {"x": {"datum": {"year": 2014, "month": 5, "date": 7, "utc": true}, "type": "temporal"}}
        },
        {
          "data": {"values": [{}]},
          "mark": {"type": "rule", "color": "#000000", "strokeWidth": 3, "clip": false},
          "encoding": {"x": {"datum": {"year": 2024, "month": 5, "date": 18, "utc": true}, "type": "temporal"}}
        },
        {
          "data": {"values": [{}]},
          "mark": {"type": "rule", "color": "#000000", "strokeWidth": 2, "clip": false},
          "encoding": {"x": {"datum": {"year": 2024, "month": 12, "date": 25, "utc": true}, "type": "temporal"}}
        },
        {
          "data": {"values": [{}]},
          "mark": {"type": "rule", "color": "#000000", "strokeWidth": 2, "clip": false},
          "encoding": {
            "x": {"datum": {"year": 2014, "month": 5, "date": 7, "utc": true}, "type": "temporal"},
            "x2": {"datum": {"year": 2024, "month": 5, "date": 18, "utc": true}},
            "y": {"datum": 1, "type": "quantitative", "scale": {"domain": [0, 1], "nice": false}, "axis": null}
          }
        },
        {
          "data": {"values": [{}]},
          "mark": {"type": "rule", "color": "#000000", "strokeWidth": 2, "clip": false},
          "encoding": {
            "x": {"datum": {"year": 2014, "month": 5, "date": 7, "utc": true}, "type": "temporal"},
            "x2": {"datum": {"year": 2024, "month": 12, "date": 25, "utc": true}},
            "y": {"datum": 0, "type": "quantitative"}
          }
        }
      ]
    }
  ],
  "spacing": 0,
  "bounds": "flush",
  "config": {
    "view": {"stroke": null},
    "font": "Liberation Sans"
  }
}
